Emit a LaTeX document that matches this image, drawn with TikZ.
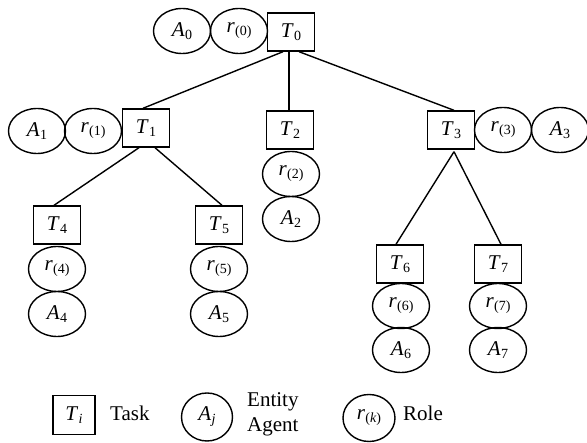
\documentclass[tikz,border=0pt]{standalone}
\usepackage{fontspec}
\setmainfont{Liberation Serif}
\usetikzlibrary{shapes.geometric}
% italic symbol with a lowered, smaller subscript
\newcommand{\sym}[2]{\textit{#1}\kern0.3pt\raisebox{-0.32ex}{\fontsize{14}{14}\selectfont #2}}
\tikzset{
  task/.style={draw, line width=1.4pt, minimum width=47pt, minimum height=38pt, inner sep=0pt},
  oval/.style={draw, ellipse, line width=1.4pt, minimum width=57pt, minimum height=45pt, inner sep=0pt},
  link/.style={line width=1.4pt},
  every node/.style={font=\fontsize{21}{25}\selectfont}
}
\begin{document}
\begin{tikzpicture}[x=1pt,y=-1pt]
\useasboundingbox (0,0) rectangle (587,443);

% root task
\node[oval] (A0) at (182,31) {\sym{A}{0}};
\node[oval] (r0) at (239,31) {\sym{r}{(0)}};
\node[task] (T0) at (291,32) {\sym{T}{0}};

% second level
\node[oval] (A1) at (37,131) {\sym{A}{1}};
\node[oval] (r1) at (93,131) {\sym{r}{(1)}};
\node[task] (T1) at (146,128) {\sym{T}{1}};

\node[task] (T2) at (290,130) {\sym{T}{2}};
\node[oval] (r2) at (291,174) {\sym{r}{(2)}};
\node[oval] (A2) at (291,219) {\sym{A}{2}};

\node[task] (T3) at (451,130) {\sym{T}{3}};
\node[oval] (r3) at (503,130) {\sym{r}{(3)}};
\node[oval] (A3) at (560,130) {\sym{A}{3}};

% third level
\node[task] (T4) at (57,225) {\sym{T}{4}};
\node[oval] (r4) at (57,269) {\sym{r}{(4)}};
\node[oval] (A4) at (57,314) {\sym{A}{4}};

\node[task] (T5) at (219,225) {\sym{T}{5}};
\node[oval] (r5) at (219,269) {\sym{r}{(5)}};
\node[oval] (A5) at (219,314) {\sym{A}{5}};

\node[task] (T6) at (400,264) {\sym{T}{6}};
\node[oval] (r6) at (401,306) {\sym{r}{(6)}};
\node[oval] (A6) at (401,350) {\sym{A}{6}};

\node[task] (T7) at (498,264) {\sym{T}{7}};
\node[oval] (r7) at (498,306) {\sym{r}{(7)}};
\node[oval] (A7) at (498,350) {\sym{A}{7}};

% task decomposition links
\draw[link] ([xshift=-8pt]T0.south) -- ([xshift=-3pt]T1.north);
\draw[link] ([xshift=-2pt]T0.south) -- ([xshift=-1pt]T2.north);
\draw[link] ([xshift=8pt]T0.south) -- ([xshift=3pt]T3.north);
\draw[link] ([xshift=-7pt]T1.south) -- ([xshift=-3pt]T4.north);
\draw[link] ([xshift=9pt]T1.south) -- ([xshift=3pt]T5.north);
\draw[link] ([xshift=3pt,yshift=-2pt]T3.south) -- ([xshift=-4pt]T6.north);
\draw[link] ([xshift=3pt,yshift=-2pt]T3.south) -- ([xshift=3pt]T7.north);

% legend
\node[task, minimum width=42pt, minimum height=39pt] (LT) at (74,415) {\sym{T}{\textit{i}}};
\node[anchor=west, inner sep=0pt] (LTt) at (110,413) {Task};
\node[oval, minimum width=51pt, minimum height=48pt] (LA) at (207,417) {\sym{A}{\textit{j}}};
\node[anchor=west, inner sep=0pt, align=left, font=\fontsize{21}{25}\selectfont] (LAt) at (247,414) {Entity\\Agent};
\node[oval, minimum width=52pt, minimum height=47pt] (LR) at (369,418) {\sym{r}{(\textit{k})}};
\node[anchor=west, inner sep=0pt] (LRt) at (403,413) {Role};
\end{tikzpicture}
\end{document}
